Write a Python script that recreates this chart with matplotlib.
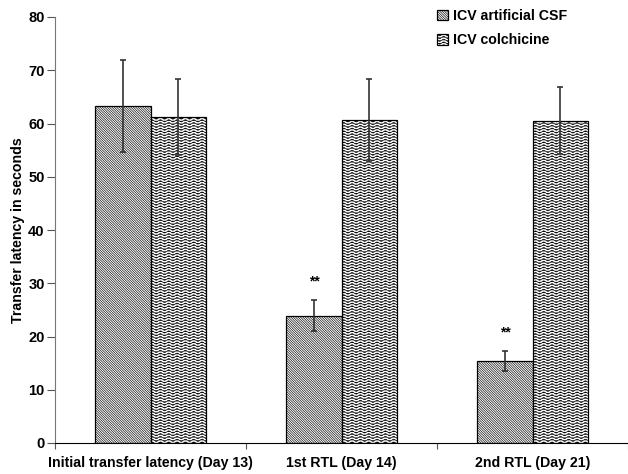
import numpy as np
import matplotlib
matplotlib.use("Agg")
import matplotlib.pyplot as plt
import matplotlib.hatch as mhatch
from matplotlib.path import Path
import warnings

# -----------------------------
# Data: transfer latency (s), mean and SEM
# -----------------------------
categories = ["Initial transfer latency (Day 13)", "1st RTL (Day 14)", "2nd RTL (Day 21)"]
series_names = ["ICV artificial CSF", "ICV colchicine"]
csf_mean = [63.3, 23.9, 15.4]
csf_err = [8.6, 2.9, 1.9]
colch_mean = [61.2, 60.7, 60.5]
colch_err = [7.2, 7.7, 6.3]
signif = ["", "**", "**"]


# -----------------------------
# Wavy hatch ('~'), not built into matplotlib
# -----------------------------
class WaveHatch(mhatch.HatchPatternBase):
    def __init__(self, hatch, density):
        self.num_rows = int(hatch.count('~') * density)
        self.num_waves = 12
        self.pts = self.num_waves * 8 + 1
        self.num_vertices = self.num_rows * self.pts

    def set_vertices_and_codes(self, vertices, codes):
        t = np.linspace(0, 1, self.pts)
        wave = 0.011 * np.sin(2 * np.pi * self.num_waves * t)
        for i in range(self.num_rows):
            y = (i + 0.5) / self.num_rows
            sl = slice(i * self.pts, (i + 1) * self.pts)
            vertices[sl, 0] = t
            vertices[sl, 1] = y + wave
            codes[sl] = Path.LINETO
            codes[i * self.pts] = Path.MOVETO


mhatch._hatch_types.append(WaveHatch)
warnings.filterwarnings("ignore")

plt.rcParams['font.family'] = ['Liberation Sans', 'DejaVu Sans']
plt.rcParams['font.weight'] = 'bold'
plt.rcParams['hatch.linewidth'] = 0.45

# -----------------------------
# Figure
# -----------------------------
fig = plt.figure(figsize=(6.28, 4.74), dpi=100)
ax = fig.add_axes([55 / 628, 31 / 474, 573 / 628, 426 / 474])

x = np.arange(len(categories))
w = 0.288

b1 = ax.bar(x - w / 2, csf_mean, w, color='white', edgecolor='black', linewidth=0.9,
            hatch='\\' * 14, label=series_names[0])
b2 = ax.bar(x + w / 2, colch_mean, w, color='white', edgecolor='black', linewidth=0.9,
            hatch='~' * 6, label=series_names[1])

ax.errorbar(x - w / 2, csf_mean, yerr=csf_err, fmt='none', ecolor='#333333',
            elinewidth=1.2, capsize=2.4, capthick=1.2)
ax.errorbar(x + w / 2, colch_mean, yerr=colch_err, fmt='none', ecolor='#333333',
            elinewidth=1.2, capsize=2.4, capthick=1.2)

for xi, m, e, s in zip(x, csf_mean, csf_err, signif):
    if s:
        ax.text(xi - w / 2, m + e + 3.5, s, ha='center', va='center', fontsize=10)

ax.set_xlim(-0.5, 2.5)
ax.set_ylim(0, 80)
ax.set_yticks(np.arange(0, 81, 10))
ax.tick_params(axis='y', direction='out', length=6, pad=1.5, labelsize=10.5, color='#555555')

# ticks at group boundaries, labels at group centres
ax.set_xticks([-0.5, 0.5, 1.5, 2.5])
ax.set_xticklabels([])
ax.set_xticks(x, minor=True)
ax.set_xticklabels(categories, minor=True, fontsize=10.2)
ax.tick_params(axis='x', which='major', direction='out', length=4, color='#555555')
ax.tick_params(axis='x', which='minor', length=0, pad=9)

ax.set_ylabel("Transfer latency in seconds", fontsize=10.2, fontweight='bold', labelpad=2)

for side in ['top', 'right']:
    ax.spines[side].set_visible(False)
ax.spines['left'].set_color('#777777')
ax.spines['bottom'].set_color('black')

fig.legend(handles=[b1, b2], loc='upper left', bbox_to_anchor=(437 / 628, 1 - 9 / 474),
           frameon=False, fontsize=10.2, handlelength=0.8, handleheight=0.8,
           handletextpad=0.3, labelspacing=0.72, borderpad=0, borderaxespad=0)

fig.savefig("out.png", dpi=100)
